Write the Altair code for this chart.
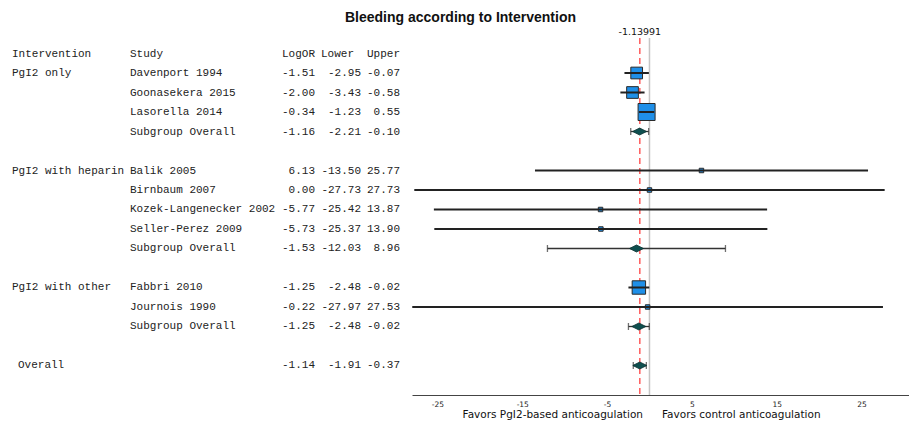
import altair as alt
import pandas as pd

# ---------------- data ----------------
title_text = "Bleeding according to Intervention"
header_labels = ["Intervention", "Study", "LogOR", "Lower", "Upper"]

groups = ["PgI2 only", "PgI2 with heparin", "PgI2 with other"]
group_logor = [-1.16, -1.53, -1.25]
group_lower = [-2.21, -12.03, -2.48]
group_upper = [-0.10, 8.96, -0.02]
subgroup_label = "Subgroup Overall"

studies = ["Davenport 1994", "Goonasekera 2015", "Lasorella 2014",
           "Balik 2005", "Birnbaum 2007", "Kozek-Langenecker 2002", "Seller-Perez 2009",
           "Fabbri 2010", "Journois 1990"]
study_group = ["PgI2 only"] * 3 + ["PgI2 with heparin"] * 4 + ["PgI2 with other"] * 2
study_logor = [-1.51, -2.00, -0.34, 6.13, 0.00, -5.77, -5.73, -1.25, -0.22]
study_lower = [-2.95, -3.43, -1.23, -13.50, -27.73, -25.42, -25.37, -2.48, -27.97]
study_upper = [-0.07, -0.58, 0.55, 25.77, 27.73, 13.87, 13.90, -0.02, 27.53]
study_weight = [13.7, 13.7, 28.9, 2.0, 2.0, 2.0, 2.0, 18.0, 2.0]

overall_label = "Overall"
overall_logor = -1.14
overall_lower = -1.91
overall_upper = -0.37

pooled_estimate = -1.13991
pooled_label = "-1.13991"
x_ticks = [-25, -15, -5, 5, 15, 25]
favors_left = "Favors PgI2-based anticoagulation"
favors_right = "Favors control anticoagulation"


def fmt(v):
    return f"{v:.2f}"


# ---------------- table build ----------------
recs = []
row = 1
for g, gl, glo, ghi in zip(groups, group_logor, group_lower, group_upper):
    first = True
    for s, sg, e, lo, hi, w in zip(studies, study_group, study_logor, study_lower, study_upper, study_weight):
        if sg != g:
            continue
        recs.append(dict(row=row, kind="study", intervention=g if first else "", study=s,
                         label="", est=e, lo=lo, hi=hi, weight=w))
        first = False
        row += 1
    recs.append(dict(row=row, kind="pooled", intervention="", study=subgroup_label,
                     label="", est=gl, lo=glo, hi=ghi, weight=0))
    row += 2
recs.append(dict(row=row, kind="pooled", intervention="", study="", label=overall_label,
                 est=overall_logor, lo=overall_lower, hi=overall_upper, weight=0))
df = pd.DataFrame(recs)
df["est_txt"] = df["est"].map(fmt)
df["lo_txt"] = df["lo"].map(fmt)
df["hi_txt"] = df["hi"].map(fmt)

study_df = df[df["kind"] == "study"]
pooled_df = df[df["kind"] == "pooled"]

# ---------------- scales ----------------
xscale = alt.Scale(domain=[-28, 30.6], nice=False, zero=False)
yscale = alt.Scale(domain=[-0.795, 17.513], reverse=True, nice=False, zero=False)
xaxis = alt.Axis(values=x_ticks, ticks=False, grid=False, domainColor="#444", domainWidth=1,
                 labelFont="DejaVu Sans", labelFontSize=7.5, labelColor="#222",
                 labelPadding=5, labelExpr="datum.value + ''", title=None)


def X(field):
    return alt.X(field, scale=xscale, axis=xaxis, title=None)


Y = alt.Y("row:Q", scale=yscale, axis=None)

MONO = "Liberation Mono"
TXT = "#222"

layers = []

# zero line
layers.append(alt.Chart(pd.DataFrame({"v": [0]})).mark_rule(color="#c6c6c6", strokeWidth=1.5)
              .encode(x=X("v:Q")))
# pooled estimate dashed line + label
pdf = pd.DataFrame({"v": [pooled_estimate], "lab": [pooled_label]})
layers.append(alt.Chart(pdf).mark_rule(color="#ff5c5c", strokeWidth=1.5, strokeDash=[6, 4])
              .encode(x=X("v:Q")))
layers.append(alt.Chart(pdf).mark_text(font="DejaVu Sans", fontSize=9.5, color="#111", baseline="middle")
              .encode(x=X("v:Q"), y=alt.value(-6), text="lab:N"))

# study squares
layers.append(alt.Chart(study_df).mark_point(shape="square", filled=True, color="#1f8fe8",
                                             stroke="#2a2a2a", strokeWidth=1, opacity=1)
              .encode(x=X("est:Q"), y=Y,
                      size=alt.Size("weight:Q", scale=alt.Scale(domain=[0, 30], range=[0, 300]), legend=None)))
# study CIs
layers.append(alt.Chart(study_df).mark_rule(color="#222", strokeWidth=2)
              .encode(x=X("lo:Q"), x2="hi:Q", y=Y))

# pooled CIs with caps
layers.append(alt.Chart(pooled_df).mark_rule(color="#333", strokeWidth=1.3)
              .encode(x=X("lo:Q"), x2="hi:Q", y=Y))
layers.append(alt.Chart(pooled_df).mark_tick(orient="vertical", size=7, thickness=1.3, color="#333")
              .encode(x=X("lo:Q"), y=Y))
layers.append(alt.Chart(pooled_df).mark_tick(orient="vertical", size=7, thickness=1.3, color="#333")
              .encode(x=X("hi:Q"), y=Y))
# diamonds
layers.append(alt.Chart(pooled_df).mark_point(shape="M-1,0L0,-0.5L1,0L0,0.5Z", filled=True, color="#0f4f4f",
                                              stroke="#0a3030", strokeWidth=0.8, opacity=1, size=196)
              .encode(x=X("est:Q"), y=Y))

# table header
hdr_pos = [(-400, "left"), (-282, "left"), (-97, "right"), (-58, "right"), (-12, "right")]
for lab, (px, al) in zip(header_labels, hdr_pos):
    layers.append(alt.Chart(pd.DataFrame({"t": [lab], "row": [0]}))
                  .mark_text(font=MONO, fontSize=11, color=TXT, align=al, baseline="middle")
                  .encode(x=alt.value(px), y=Y, text="t:N"))

# table body
body_cols = [("intervention", -400, "left"), ("label", -394, "left"), ("study", -282, "left"),
             ("est_txt", -97, "right"), ("lo_txt", -51, "right"), ("hi_txt", -12, "right")]
for col, px, al in body_cols:
    layers.append(alt.Chart(df).mark_text(font=MONO, fontSize=11, color=TXT, align=al, baseline="middle")
                  .encode(x=alt.value(px), y=Y, text=f"{col}:N"))

# favors labels
fdf = pd.DataFrame({"l": [favors_left], "r": [favors_right]})
layers.append(alt.Chart(fdf).mark_text(font="DejaVu Sans", fontSize=10.5, color="#111", align="right",
                                       baseline="middle")
              .encode(x=alt.value(231), y=alt.value(377), text="l:N"))
layers.append(alt.Chart(fdf).mark_text(font="DejaVu Sans", fontSize=10.5, color="#111", align="left",
                                       baseline="middle")
              .encode(x=alt.value(250), y=alt.value(377), text="r:N"))

chart = alt.layer(*layers).properties(
    width=497, height=357,
    padding={"left": 412, "top": 38, "right": 0, "bottom": 26},
    autosize=alt.AutoSizeParams(type="none"),
    background="white",
    title=alt.TitleParams(text=title_text, font="Liberation Sans", fontSize=14, fontWeight="bold",
                          color="#111", anchor="middle", frame="group", dx=-200, offset=2),
).configure_view(strokeWidth=0)

chart.save("out.html", embed_options={"renderer": "svg", "actions": False})
